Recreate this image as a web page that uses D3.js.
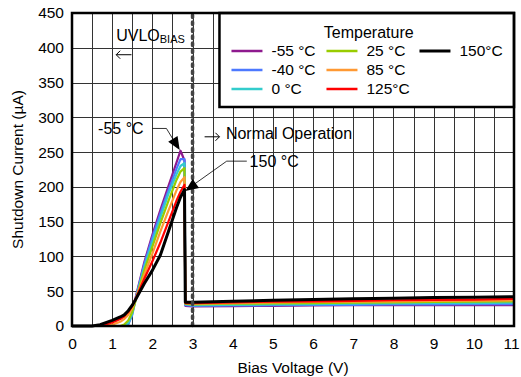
<!DOCTYPE html>
<html>
<head>
<meta charset="utf-8">
<script src="https://cdn.jsdelivr.net/npm/d3@7"></script>
<style>
  body { margin: 0; background: #fff; }
  text { font-family: "Liberation Sans", Arial, sans-serif; fill: #000; }
</style>
</head>
<body>
<div id="chart"></div>
<script>
// bias voltage points (V), shared by all series
const volts = [0, 0.5, 0.7, 1.0, 1.2, 1.3, 1.4, 1.5, 1.6, 1.8, 2.0, 2.2, 2.4, 2.6, 2.7, 2.8, 2.82, 3, 4, 5, 6, 7, 8, 9, 10, 11];

// shutdown current (uA) per temperature
const iM55 = [0, 0, 0, 0, 0, 0, 3, 20, 45, 92, 131, 167, 201, 235, 252, 238, 29, 28, 28.5, 29, 29.5, 30, 30, 30, 30, 30];
const iM40 = [0, 0, 0, 0, 0, 0, 2, 16, 43, 89, 127, 162, 195, 226, 240, 240, 30, 29, 29.5, 30, 30.5, 30.5, 31, 31, 31.5, 31.5];
const i0   = [0, 0, 0, 0, 0, 0, 4, 18, 42, 85, 121, 156, 190, 218, 230, 234, 31, 30, 30.5, 31, 31.5, 32, 32.5, 33, 33, 33.5];
const i25  = [0, 0, 0, 0, 0, 2, 8, 20, 40, 80, 114, 148, 180, 210, 222, 227, 32, 31, 32, 32.5, 33, 33.5, 34, 34.5, 35, 35.5];
const i85  = [0, 0, 0, 2, 6, 10, 16, 26, 41, 74, 104, 136, 166, 195, 207, 214, 33, 32, 33, 34, 34.5, 35, 35.5, 36, 36.5, 37];
const i125 = [0, 0, 0, 5, 10, 14, 20, 29, 41, 68, 93, 120, 150, 180, 193, 203, 33, 33, 34, 35, 35.5, 36, 37, 37.5, 38, 39];
const i150 = [0, 0, 2, 8, 13, 16, 22, 30, 40, 61, 80, 102, 136, 170, 185, 196, 34, 34, 35.5, 37, 38, 39, 40, 41, 41.5, 42];

const seriesNames = ["-55 °C", "-40 °C", "0 °C", "25 °C", "85 °C", "125°C", "150°C"];
const seriesValues = [iM55, iM40, i0, i25, i85, i125, i150];
const seriesColors = ["#8e1a8e", "#4d79ff", "#33cccc", "#99cc00", "#ff9933", "#ff0000", "#000000"];

const xTicks = d3.range(0, 12, 1);
const yTicks = d3.range(0, 451, 50);

const margin = {top: 13, right: 7, bottom: 51, left: 72};
const width = 521, height = 377;
const visWidth = width - margin.left - margin.right;
const visHeight = height - margin.top - margin.bottom;

const svg = d3.select("#chart").append("svg")
  .attr("width", width)
  .attr("height", height);

const g = svg.append("g")
  .attr("transform", `translate(${margin.left}, ${margin.top})`);

const x = d3.scaleLinear().domain([0, 11]).range([0, visWidth]);
const y = d3.scaleLinear().domain([0, 450]).range([visHeight, 0]);

// grid
const grid = g.append("g").attr("stroke", "#333").attr("stroke-width", 1);
grid.selectAll(".vg")
  .data(d3.range(0.5, 11, 0.5))
  .join("line")
  .attr("x1", d => Math.round(x(d)) + 0.5)
  .attr("x2", d => Math.round(x(d)) + 0.5)
  .attr("y1", 0)
  .attr("y2", visHeight);
grid.selectAll(".hg")
  .data(yTicks.slice(1, -1))
  .join("line")
  .attr("x1", 0)
  .attr("x2", visWidth)
  .attr("y1", d => Math.round(y(d)) + 0.5)
  .attr("y2", d => Math.round(y(d)) + 0.5);

// axes
const xAxis = g.append("g")
  .attr("transform", `translate(0, ${visHeight})`)
  .call(d3.axisBottom(x).tickValues(xTicks).tickSize(0).tickPadding(12))
  .call(a => a.select(".domain").remove());
xAxis.selectAll("text")
  .attr("font-size", 15.5)
  .attr("font-family", "Liberation Sans, Arial, sans-serif")
  .attr("dx", d => d === 11 ? -3 : 0);

const yAxis = g.append("g")
  .call(d3.axisLeft(y).tickValues(yTicks).tickSize(0).tickPadding(8))
  .call(a => a.select(".domain").remove());
yAxis.selectAll("text").attr("font-size", 15.5).attr("font-family", "Liberation Sans, Arial, sans-serif");

svg.append("text")
  .attr("x", margin.left + visWidth / 2)
  .attr("y", 373)
  .attr("text-anchor", "middle")
  .attr("font-size", 15.5)
  .text("Bias Voltage (V)");

svg.append("text")
  .attr("transform", `translate(23, ${margin.top + visHeight / 2}) rotate(-90)`)
  .attr("text-anchor", "middle")
  .attr("font-size", 15.5)
  .text("Shutdown Current (µA)");

// curves
const line = d3.line()
  .x((d, i) => x(volts[i]))
  .y(d => y(d));

g.selectAll(".curve")
  .data(seriesValues)
  .join("path")
  .attr("class", "curve")
  .attr("fill", "none")
  .attr("stroke", (d, i) => seriesColors[i])
  .attr("stroke-width", (d, i) => i === 6 ? 3 : 2.2)
  .attr("stroke-linejoin", "round")
  .attr("d", line);

// UVLO boundary
g.append("line")
  .attr("x1", x(3)).attr("x2", x(3))
  .attr("y1", 2).attr("y2", visHeight)
  .attr("stroke", "#444")
  .attr("stroke-width", 3.5)
  .attr("stroke-linecap", "round")
  .attr("stroke-dasharray", "2.5,4.5");

// annotations
const uv = g.append("text")
  .attr("x", x(1.1))
  .attr("y", y(410))
  .attr("font-size", 16);
uv.append("tspan").text("UVLO");
uv.append("tspan").attr("font-size", 11).attr("dy", 2).text("BIAS");

// small open arrows
function arrow(x0, x1, yy) {
  const dir = Math.sign(x1 - x0);
  g.append("path")
    .attr("d", `M${x0},${yy}H${x1}M${x1 - dir * 4},${yy - 4}L${x1},${yy}L${x1 - dir * 4},${yy + 4}`)
    .attr("fill", "none")
    .attr("stroke", "#000")
    .attr("stroke-width", 1);
}
arrow(x(1.48), x(1.1), y(390));
arrow(x(3.3), x(3.67), y(272));

g.append("text")
  .attr("x", x(3.83))
  .attr("y", y(269))
  .attr("font-size", 16)
  .text("Normal Operation");

g.append("text")
  .attr("x", x(0.65))
  .attr("y", y(276))
  .attr("font-size", 16)
  .text("-55 °C");

g.append("text")
  .attr("x", x(4.42))
  .attr("y", y(228))
  .attr("font-size", 16)
  .text("150 °C");

// leader lines with arrowheads
function leader(pts, tip, from) {
  g.append("path")
    .attr("d", d3.line()(pts))
    .attr("fill", "none")
    .attr("stroke", "#000")
    .attr("stroke-width", 0.8);
  const ang = Math.atan2(tip[1] - from[1], tip[0] - from[0]);
  const L = 13, W = 5.5;
  const bx = tip[0] - L * Math.cos(ang), by = tip[1] - L * Math.sin(ang);
  const px = -Math.sin(ang) * W, py = Math.cos(ang) * W;
  g.append("path")
    .attr("d", d3.line()([tip, [bx + px, by + py], [bx - px, by - py]]) + "Z")
    .attr("fill", "#000");
}

const a1 = [[x(2.0), y(284)], [x(2.35), y(284)], [x(2.6), y(261)]];
leader([a1[0], a1[1], [x(2.55), y(265)]], [x(2.68), y(253)], a1[1]);

const a2 = [[x(4.35), y(237)], [x(3.85), y(237)], [x(2.95), y(200)]];
leader([a2[0], a2[1], [x(2.95), y(200)]], [x(2.82), y(194)], a2[1]);

// legend
const lg = g.append("g").attr("transform", `translate(${x(3.67)}, 0)`);
const lgW = visWidth - x(3.67), lgH = 94;
lg.append("rect")
  .attr("x", 0).attr("y", 0)
  .attr("width", lgW).attr("height", lgH)
  .attr("fill", "#fff")
  .attr("stroke", "#000")
  .attr("stroke-width", 2.5);
lg.append("text")
  .attr("x", lgW / 2 + 2)
  .attr("y", 25)
  .attr("text-anchor", "middle")
  .attr("font-size", 16)
  .text("Temperature");

const colX = [12, 107, 200];
const rowY = [38, 57, 76];
const legendItems = seriesNames.map((n, i) => ({
  name: n,
  color: seriesColors[i],
  col: i < 3 ? 0 : (i < 6 ? 1 : 2),
  row: i < 3 ? i : (i < 6 ? i - 3 : 0)
}));
const li = lg.selectAll(".li")
  .data(legendItems)
  .join("g")
  .attr("transform", d => `translate(${colX[d.col]}, ${rowY[d.row]})`);
li.append("line")
  .attr("x1", 0).attr("x2", 31)
  .attr("stroke", d => d.color)
  .attr("stroke-width", (d, i) => i === 6 ? 3 : 2.5);
li.append("text")
  .attr("x", 40)
  .attr("dy", "0.35em")
  .attr("font-size", 15.5)
  .text(d => d.name);

// frame
g.append("rect")
  .attr("width", visWidth)
  .attr("height", visHeight)
  .attr("fill", "none")
  .attr("stroke", "#000")
  .attr("stroke-width", 2.5);
</script>
</body>
</html>
